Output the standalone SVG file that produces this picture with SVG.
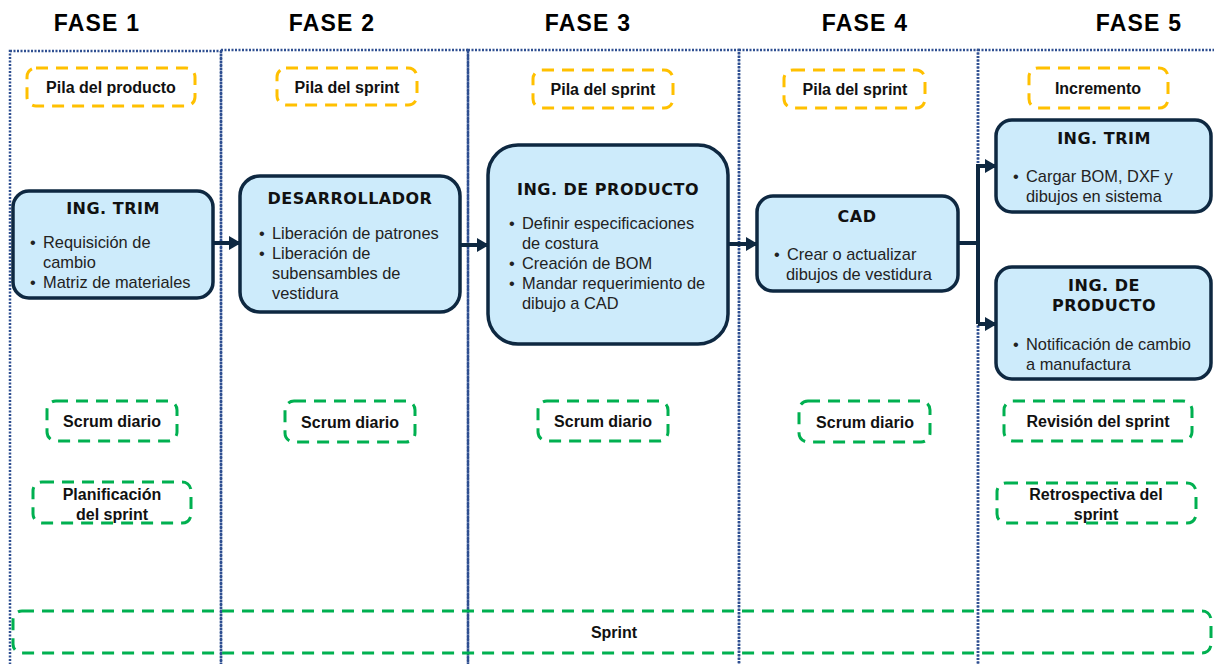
<svg xmlns="http://www.w3.org/2000/svg" width="1214" height="664" viewBox="0 0 1214 664">
  <style>
    .phase { font-family: "Liberation Sans", Arial, sans-serif; font-weight: bold; font-size: 23px; letter-spacing: 1.2px; fill: #000; text-anchor: middle; }
    .lane { fill: none; stroke: #2F4F91; stroke-width: 2.5; stroke-dasharray: 2 1.5; }
    .art { fill: #fff; stroke: #FFC000; stroke-width: 3; stroke-dasharray: 12 8; }
    .event { fill: none; stroke: #00B050; stroke-width: 3; stroke-dasharray: 12 8; }
    .lbl { font-family: "Liberation Sans", Arial, sans-serif; font-weight: bold; font-size: 16px; fill: #111; text-anchor: middle; }
    .role { fill: #CDEBFB; stroke: #0E2841; stroke-width: 3.5; }
    .title { font-family: "DejaVu Sans", Verdana, sans-serif; font-weight: bold; font-size: 16px; letter-spacing: 0.5px; fill: #111; text-anchor: middle; }
    .body { font-family: "Liberation Sans", Arial, sans-serif; font-size: 16.4px; fill: #222; }
    .wire { fill: none; stroke: #0E2841; stroke-width: 4; }
  </style>
  <defs>
    <marker id="head" markerUnits="userSpaceOnUse" markerWidth="12" markerHeight="14" refX="11" refY="7" orient="auto">
      <path d="M0,0 L12,7 L0,14 Z" fill="#0E2841"/>
    </marker>
  </defs>

  <rect width="1214" height="664" fill="#fff"/>

  <!-- phase headings -->
  <g id="headings">
    <text class="phase" x="97" y="31">FASE 1</text>
    <text class="phase" x="332" y="31">FASE 2</text>
    <text class="phase" x="588" y="31">FASE 3</text>
    <text class="phase" x="865" y="31">FASE 4</text>
    <text class="phase" x="1139" y="31">FASE 5</text>
  </g>

  <!-- phase lanes -->
  <g id="lanes">
    <rect class="lane" x="10" y="51" width="211" height="640"/>
    <rect class="lane" x="221" y="50" width="247" height="640"/>
    <rect class="lane" x="468" y="50" width="271" height="640"/>
    <rect class="lane" x="739" y="50" width="239" height="640"/>
    <rect class="lane" x="978" y="50" width="260" height="640"/>
  </g>

  <!-- artifacts -->
  <g id="pila-producto">
    <rect class="art" x="27" y="68" width="168" height="38" rx="9"/>
    <text class="lbl" x="111" y="93">Pila del producto</text>
  </g>
  <g id="pila-sprint-2">
    <rect class="art" x="277" y="68" width="140" height="37" rx="9"/>
    <text class="lbl" x="347" y="93">Pila del sprint</text>
  </g>
  <g id="pila-sprint-3">
    <rect class="art" x="533" y="70" width="140" height="38" rx="9"/>
    <text class="lbl" x="603" y="95">Pila del sprint</text>
  </g>
  <g id="pila-sprint-4">
    <rect class="art" x="784" y="70" width="141" height="38" rx="9"/>
    <text class="lbl" x="855" y="95">Pila del sprint</text>
  </g>
  <g id="incremento">
    <rect class="art" x="1029" y="68" width="139" height="40" rx="9"/>
    <text class="lbl" x="1098" y="94">Incremento</text>
  </g>

  <!-- connectors -->
  <g id="connectors">
    <line class="wire" x1="213" y1="243" x2="240" y2="243" marker-end="url(#head)"/>
    <line class="wire" x1="460" y1="245" x2="488" y2="245" marker-end="url(#head)"/>
    <line class="wire" x1="728" y1="244" x2="757" y2="244" marker-end="url(#head)"/>
    <polyline class="wire" points="958,243 978,243"/>
    <polyline class="wire" points="978,324 978,166 996,166" marker-end="url(#head)"/>
    <polyline class="wire" points="978,324 996,324" marker-end="url(#head)"/>
  </g>

  <!-- roles -->
  <g id="ing-trim-1">
    <rect class="role" x="13" y="191" width="200" height="107" rx="16"/>
    <text class="title" x="113" y="214">ING. TRIM</text>
    <text class="body" x="30" y="248">•</text>
    <text class="body" x="43" y="248">Requisición de</text>
    <text class="body" x="43" y="268">cambio</text>
    <text class="body" x="30" y="288">•</text>
    <text class="body" x="43" y="288">Matriz de materiales</text>
  </g>
  <g id="desarrollador">
    <rect class="role" x="240" y="176" width="220" height="136" rx="20"/>
    <text class="title" x="350" y="204">DESARROLLADOR</text>
    <text class="body" x="259" y="239">•</text>
    <text class="body" x="272" y="239">Liberación de patrones</text>
    <text class="body" x="259" y="259">•</text>
    <text class="body" x="272" y="259">Liberación de</text>
    <text class="body" x="272" y="279">subensambles de</text>
    <text class="body" x="272" y="299">vestidura</text>
  </g>
  <g id="ing-producto-3">
    <rect class="role" x="488" y="145" width="240" height="199" rx="30"/>
    <text class="title" x="608" y="195">ING. DE PRODUCTO</text>
    <text class="body" x="509" y="229">•</text>
    <text class="body" x="522" y="229">Definir especificaciones</text>
    <text class="body" x="522" y="249">de costura</text>
    <text class="body" x="509" y="269">•</text>
    <text class="body" x="522" y="269">Creación de BOM</text>
    <text class="body" x="509" y="289">•</text>
    <text class="body" x="522" y="289">Mandar requerimiento de</text>
    <text class="body" x="522" y="309">dibujo a CAD</text>
  </g>
  <g id="cad">
    <rect class="role" x="757" y="196" width="201" height="95" rx="16"/>
    <text class="title" x="857" y="222">CAD</text>
    <text class="body" x="774" y="260">•</text>
    <text class="body" x="787" y="260">Crear o actualizar</text>
    <text class="body" x="786" y="280">dibujos de vestidura</text>
  </g>
  <g id="ing-trim-5">
    <rect class="role" x="996" y="120" width="215" height="92" rx="16"/>
    <text class="title" x="1104" y="144">ING. TRIM</text>
    <text class="body" x="1013" y="182">•</text>
    <text class="body" x="1026" y="182">Cargar BOM, DXF y</text>
    <text class="body" x="1026" y="202">dibujos en sistema</text>
  </g>
  <g id="ing-producto-5">
    <rect class="role" x="996" y="267" width="215" height="112" rx="16"/>
    <text class="title" x="1104" y="291">ING. DE</text>
    <text class="title" x="1104" y="311">PRODUCTO</text>
    <text class="body" x="1013" y="350">•</text>
    <text class="body" x="1026" y="350">Notificación de cambio</text>
    <text class="body" x="1026" y="370">a manufactura</text>
  </g>

  <!-- events -->
  <g id="scrum-1">
    <rect class="event" x="47" y="401" width="130" height="40" rx="9"/>
    <text class="lbl" x="112" y="427">Scrum diario</text>
  </g>
  <g id="planificacion">
    <rect class="event" x="33" y="482" width="158" height="41" rx="9"/>
    <text class="lbl" x="112" y="500">Planificación</text>
    <text class="lbl" x="112" y="520">del sprint</text>
  </g>
  <g id="scrum-2">
    <rect class="event" x="285" y="401" width="130" height="41" rx="9"/>
    <text class="lbl" x="350" y="428">Scrum diario</text>
  </g>
  <g id="scrum-3">
    <rect class="event" x="538" y="401" width="130" height="40" rx="9"/>
    <text class="lbl" x="603" y="427">Scrum diario</text>
  </g>
  <g id="scrum-4">
    <rect class="event" x="799" y="401" width="131" height="41" rx="9"/>
    <text class="lbl" x="865" y="428">Scrum diario</text>
  </g>
  <g id="revision">
    <rect class="event" x="1004" y="401" width="188" height="40" rx="9"/>
    <text class="lbl" x="1098" y="427">Revisión del sprint</text>
  </g>
  <g id="retrospectiva">
    <rect class="event" x="997" y="483" width="199" height="40" rx="9"/>
    <text class="lbl" x="1096" y="500">Retrospectiva del</text>
    <text class="lbl" x="1096" y="520">sprint</text>
  </g>
  <g id="sprint">
    <rect class="event" x="13" y="611" width="1198" height="42" rx="9"/>
    <text class="lbl" x="614" y="638">Sprint</text>
  </g>
</svg>
